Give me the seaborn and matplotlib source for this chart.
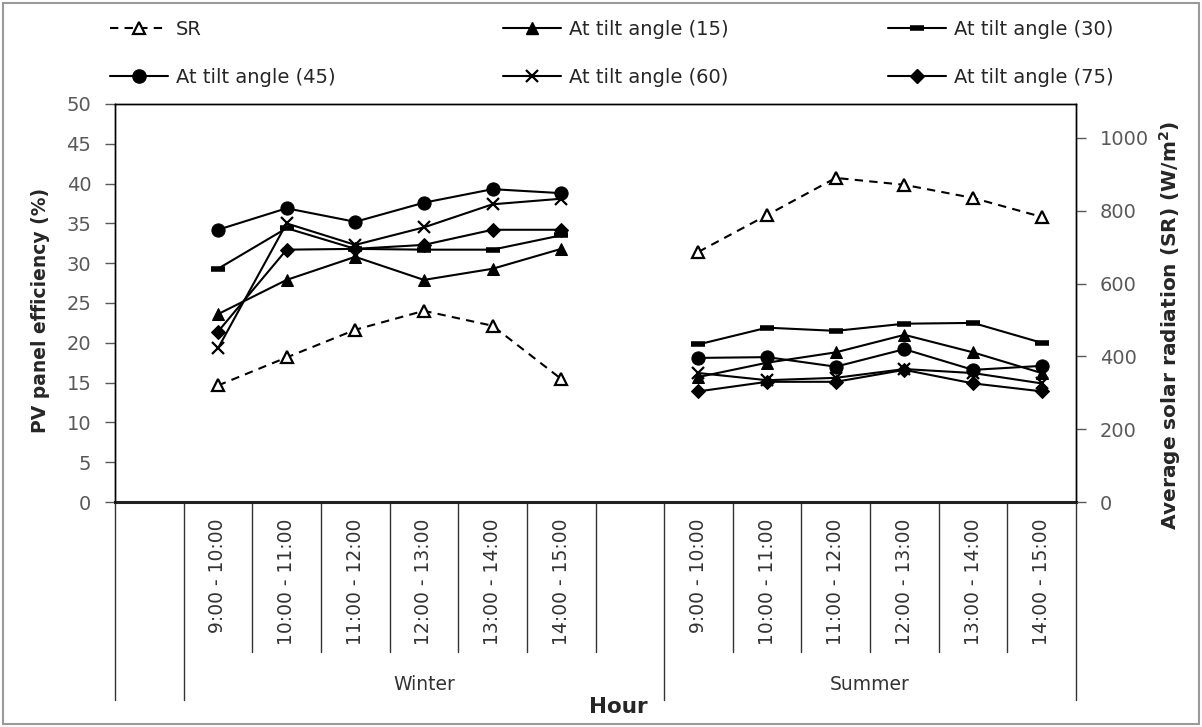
import matplotlib
matplotlib.use("Agg")
import matplotlib.pyplot as plt
import seaborn as sns
import numpy as np
from matplotlib.lines import Line2D
from matplotlib.patches import Rectangle

# ---------------- data ----------------
hours = ['9:00 - 10:00', '10:00 - 11:00', '11:00 - 12:00',
         '12:00 - 13:00', '13:00 - 14:00', '14:00 - 15:00']
seasons = ['Winter', 'Summer']
categories = [''] + hours + [''] + hours   # Excel category axis with blank slots

sr_winter = [320, 397, 473, 525, 484, 338]
sr_summer = [687, 788, 890, 871, 835, 783]

tilt15_winter = [23.6, 27.9, 30.8, 27.9, 29.3, 31.8]
tilt15_summer = [15.7, 17.5, 18.8, 21.0, 18.8, 16.2]
tilt30_winter = [29.3, 34.4, 31.8, 31.7, 31.7, 33.5]
tilt30_summer = [19.8, 21.9, 21.5, 22.4, 22.5, 20.0]
tilt45_winter = [34.2, 36.9, 35.2, 37.6, 39.3, 38.8]
tilt45_summer = [18.1, 18.2, 17.0, 19.2, 16.6, 17.1]
tilt60_winter = [19.3, 35.0, 32.3, 34.5, 37.4, 38.1]
tilt60_summer = [16.2, 15.3, 15.6, 16.7, 16.2, 14.9]
tilt75_winter = [21.4, 31.7, 31.8, 32.3, 34.2, 34.2]
tilt75_summer = [13.9, 15.1, 15.1, 16.6, 14.9, 13.9]

series_labels = ['SR', 'At tilt angle (15)', 'At tilt angle (30)',
                 'At tilt angle (45)', 'At tilt angle (60)', 'At tilt angle (75)']

# ---------------- style ----------------
sns.set_style("white")
plt.rcParams['font.family'] = ['DejaVu Sans']

W, H = 1202, 727
fig = plt.figure(figsize=(W / 100, H / 100), dpi=100)
ax_left, ax_right_px, ax_top, ax_bottom = 115, 1076, 104, 502
ax = fig.add_axes([ax_left / W, 1 - ax_bottom / H,
                   (ax_right_px - ax_left) / W, (ax_bottom - ax_top) / H])
ax2 = ax.twinx()

winter_pos = [i for i in range(1, 7)]
summer_pos = [i for i in range(8, 14)]

styles = {
    'SR': dict(marker='^', markersize=8.5, markerfacecolor='white',
               markeredgecolor='black', markeredgewidth=1.6, linestyle=(0, (4, 3)), linewidth=1.5),
    'At tilt angle (15)': dict(marker='^', markersize=9, markerfacecolor='black',
                               markeredgecolor='black', linewidth=1.5),
    'At tilt angle (30)': dict(marker='_', markersize=10, markeredgewidth=4,
                               markeredgecolor='black', linewidth=1.5),
    'At tilt angle (45)': dict(marker='o', markersize=9.5, markerfacecolor='black',
                               markeredgecolor='black', linewidth=1.5),
    'At tilt angle (60)': dict(marker='x', markersize=8.5, markeredgewidth=1.6,
                               markeredgecolor='black', linewidth=1.5),
    'At tilt angle (75)': dict(marker='D', markersize=7, markerfacecolor='black',
                               markeredgecolor='black', linewidth=1.5),
}

eff = {
    'At tilt angle (15)': (tilt15_winter, tilt15_summer),
    'At tilt angle (30)': (tilt30_winter, tilt30_summer),
    'At tilt angle (45)': (tilt45_winter, tilt45_summer),
    'At tilt angle (60)': (tilt60_winter, tilt60_summer),
    'At tilt angle (75)': (tilt75_winter, tilt75_summer),
}

for name, (wv, sv) in eff.items():
    for pos, vals in ((winter_pos, wv), (summer_pos, sv)):
        sns.lineplot(x=pos, y=vals, ax=ax, color='black', legend=False,
                     **styles[name])

for pos, vals in ((winter_pos, sr_winter), (summer_pos, sr_summer)):
    sns.lineplot(x=pos, y=vals, ax=ax2, color='black', legend=False, **styles['SR'])

# ---------------- axes ----------------
tick_color = '#595959'
ax.set_xlim(-0.5, len(categories) - 0.5)
ax.set_ylim(0, 50)
ax.set_yticks(np.arange(0, 51, 5))
ax2.set_ylim(0, 1093)
ax2.set_yticks(np.arange(0, 1001, 200))

ax.set_xticks(range(len(categories)))
ax.set_xticklabels(categories, rotation=90, fontsize=13.5, color='#333333')
ax.tick_params(axis='x', length=0, pad=12)
ax.tick_params(axis='y', direction='out', length=7, width=1, color=tick_color,
               labelsize=14, labelcolor=tick_color, pad=10, left=True)
ax2.tick_params(axis='y', direction='out', length=7, width=1, color=tick_color,
                labelsize=14, labelcolor=tick_color, pad=10, right=True)
ax.set_xlabel('')
ax.set_ylabel('')
ax2.set_ylabel('')

for a in (ax, ax2):
    for s in a.spines.values():
        s.set_visible(True)
        s.set_color('black')
        s.set_linewidth(1)
ax.spines['bottom'].set_linewidth(2.2)
ax.spines['bottom'].set_color('#222222')
ax2.spines['bottom'].set_visible(False)

# category separator lines below the axis (multi-level category axis)
axes_h = ax_bottom - ax_top
short_len = -150 / axes_h
long_len = -198 / axes_h
long_bounds = [-0.5, 0.5, 7.5, 13.5]
for b in np.arange(-0.5, len(categories), 1.0):
    yend = long_len if b in long_bounds else short_len
    ax.add_line(Line2D([b, b], [0, yend], transform=ax.get_xaxis_transform(),
                       color='#333333', lw=1, clip_on=False))

group_y = -183 / axes_h
ax.text(4.0, group_y, seasons[0], transform=ax.get_xaxis_transform(),
        ha='center', va='center', fontsize=13.5, color='#333333')
ax.text(10.5, group_y, seasons[1], transform=ax.get_xaxis_transform(),
        ha='center', va='center', fontsize=13.5, color='#333333')

fig.text(618 / W, 1 - 707 / H, 'Hour', ha='center', va='center',
         fontsize=15.5, fontweight='bold')
fig.text(41 / W, 1 - 310 / H, 'PV panel efficiency (%)', rotation=90,
         ha='center', va='center', fontsize=13.5, fontweight='bold')
fig.text(1170 / W, 1 - 325 / H, 'Average solar radiation (SR) (W/m$^{\\mathbf{2}}$)',
         rotation=90, ha='center', va='center', fontsize=14.5, fontweight='bold')

# ---------------- legend ----------------
def handle(name):
    return Line2D([], [], color='black', **styles[name])

cols = [([series_labels[0], series_labels[3]], 110),
        ([series_labels[1], series_labels[4]], 503),
        ([series_labels[2], series_labels[5]], 888)]
for names, xpx in cols:
    fig.legend([handle(n) for n in names], names, loc='upper left',
               bbox_to_anchor=(xpx / W, 1 - 20 / H), frameon=False,
               fontsize=14, handlelength=3.0, handletextpad=0.4,
               labelspacing=1.5, borderpad=0, borderaxespad=0)

# outer frame
fig.patches.append(Rectangle((3 / W, 3 / H), (W - 6) / W, (H - 6) / H,
                             transform=fig.transFigure, fill=False,
                             edgecolor='#9a9a9a', linewidth=1.5))

fig.savefig('out.png', dpi=100)
